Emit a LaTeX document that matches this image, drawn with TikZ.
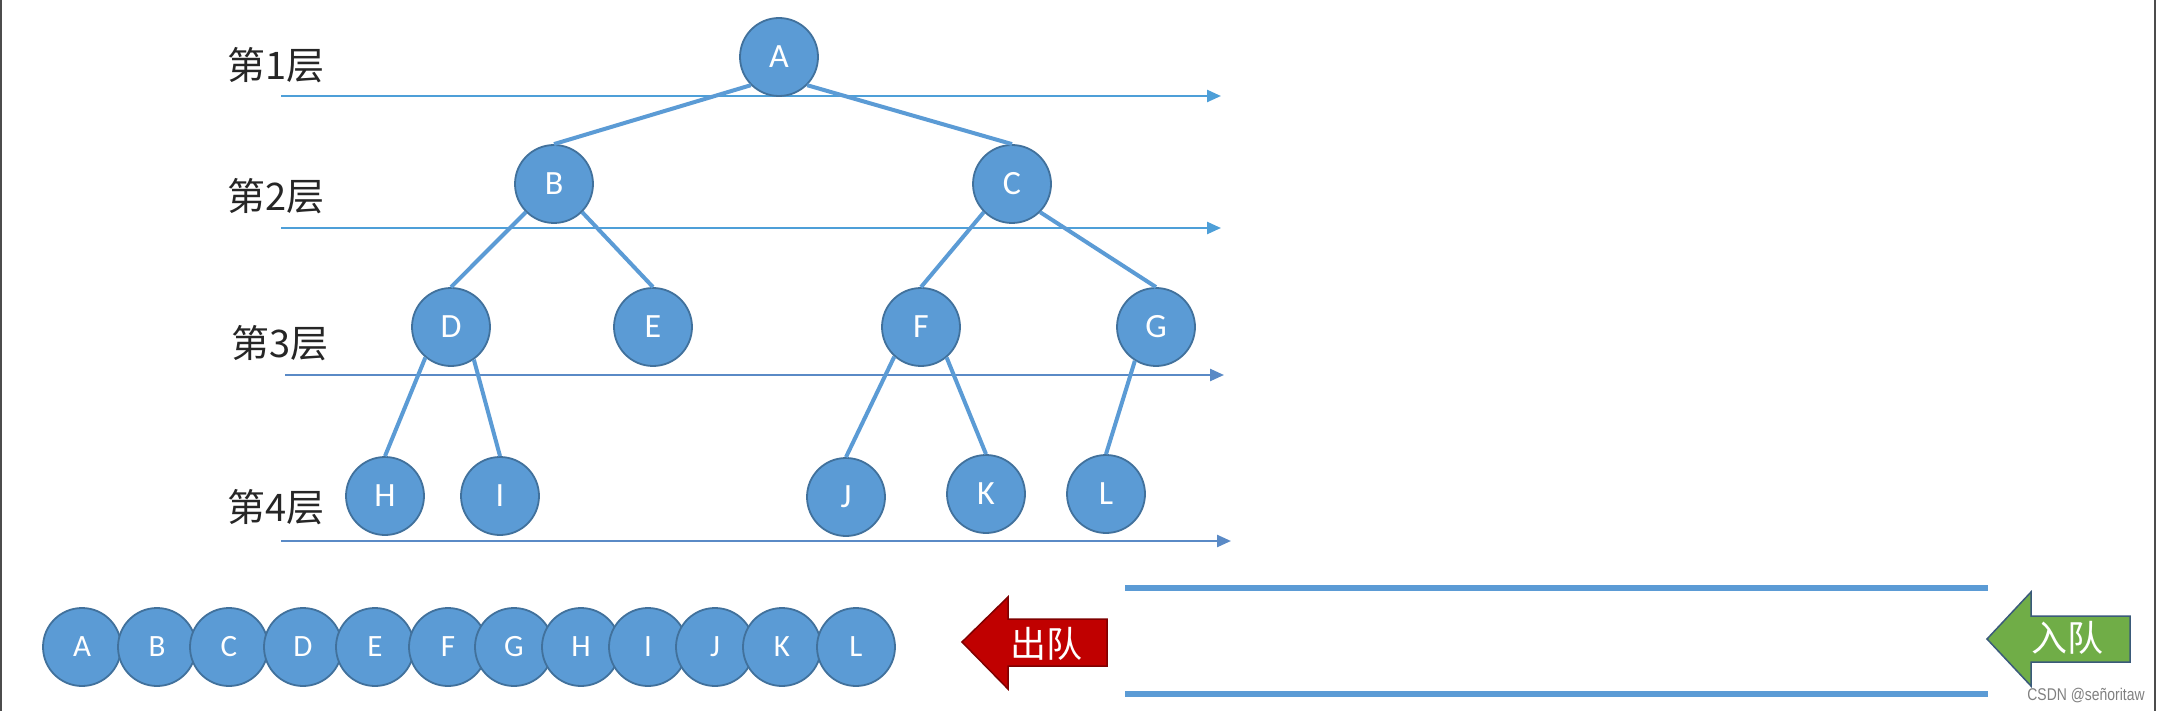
\documentclass[tikz,border=0pt]{standalone}
\usepackage{fontspec}
\setmainfont{Carlito}
\newfontfamily\cjk{Noto Sans CJK SC}
\newfontfamily\wmfont{Liberation Sans}
\usetikzlibrary{arrows.meta}
\definecolor{nodefill}{HTML}{5B9BD5}
\definecolor{nodeline}{HTML}{41719C}
\definecolor{lvlA}{HTML}{4E9FD8}
\definecolor{lvlB}{HTML}{5A8AC6}
\definecolor{outred}{HTML}{C00000}
\definecolor{outredline}{HTML}{7F0000}
\definecolor{ingreen}{HTML}{70AD47}
\definecolor{ingreenline}{HTML}{3A5A7A}
\begin{document}
\begin{tikzpicture}[x=1pt,y=-1pt,
  tn/.style={circle,fill=nodefill,draw=nodeline,line width=1.8pt,minimum size=78pt,inner sep=0pt,text=white,font=\fontsize{34}{40}\selectfont},
  qn/.style={tn,font=\fontsize{31}{36}\selectfont},
  edge/.style={draw=nodefill,line width=4pt},
  levelA/.style={draw=lvlA,line width=2.4pt,-{Triangle[length=14pt,width=12pt]}},
  levelB/.style={draw=lvlB,line width=2.4pt,-{Triangle[length=14pt,width=12pt]}},
  lbl/.style={font=\cjk\fontsize{38}{42}\selectfont,text=black!85,inner sep=0pt},
  tube/.style={draw=nodefill,line width=6pt},
  arrowtext/.style={font=\cjk\fontsize{36}{40}\selectfont,text=white,inner sep=0pt}]
\useasboundingbox (0,0) rectangle (2160,711);
\fill[white] (0,0) rectangle (2160,711);
\draw[black!70,line width=2pt] (1,0) -- (1,711);
\draw[black!70,line width=2pt] (2155,0) -- (2155,711);

% level labels
\node[lbl] (t1) at (276,65) {第1层};
\node[lbl] (t2) at (276,196) {第2层};
\node[lbl] (t3) at (280,343) {第3层};
\node[lbl] (t4) at (276,507) {第4层};

% level lines
\coordinate (l1s) at (281,96);  \coordinate (l1e) at (1221,96);
\coordinate (l2s) at (281,228); \coordinate (l2e) at (1221,228);
\coordinate (l3s) at (285,375); \coordinate (l3e) at (1224,375);
\coordinate (l4s) at (281,541); \coordinate (l4e) at (1231,541);
\draw[levelA] (l1s) -- (l1e);
\draw[levelA] (l2s) -- (l2e);
\draw[levelB] (l3s) -- (l3e);
\draw[levelB] (l4s) -- (l4e);

% tree nodes
\node[tn] (A) at (779,57) {A};
\node[tn] (B) at (554,184) {B};
\node[tn] (C) at (1012,184) {C};
\node[tn] (D) at (451,327) {D};
\node[tn] (E) at (653,327) {E};
\node[tn] (F) at (921,327) {F};
\node[tn] (G) at (1156,327) {G};
\node[tn] (H) at (385,496) {H};
\node[tn] (I) at (500,496) {I};
\node[tn] (J) at (846,497) {J};
\node[tn] (K) at (986,494) {K};
\node[tn] (L) at (1106,494) {L};

% tree edges
\draw[edge] (A.south west) -- (B.north);
\draw[edge] (A.south east) -- (C.north);
\draw[edge] (B.south west) -- (D.north);
\draw[edge] (B.south east) -- (E.north);
\draw[edge] (C.south west) -- (F.north);
\draw[edge] (C.south east) -- (G.north);
\draw[edge] (D.-130) -- (H.north);
\draw[edge] (D.-55) -- (I.north);
\draw[edge] (F.-132) -- (J.north);
\draw[edge] (F.-50) -- (K.north);
\draw[edge] (G.-122) -- (L.north);

% queue result
\node[qn] (qA) at (82,647) {A};
\node[qn] (qB) at (157,647) {B};
\node[qn] (qC) at (229,647) {C};
\node[qn] (qD) at (303,647) {D};
\node[qn] (qE) at (375,647) {E};
\node[qn] (qF) at (448,647) {F};
\node[qn] (qG) at (514,647) {G};
\node[qn] (qH) at (581,647) {H};
\node[qn] (qI) at (648,647) {I};
\node[qn] (qJ) at (715,647) {J};
\node[qn] (qK) at (782,647) {K};
\node[qn] (qL) at (856,647) {L};

% dequeue arrow
\filldraw[fill=outred,draw=outredline,line width=1.5pt,line join=miter]
  (962,642) -- (1008,597) -- (1008,619) -- (1107,619) -- (1107,666) -- (1008,666) -- (1008,689) -- cycle;
\node[arrowtext] (out) at (1046,644) {出队};

% queue tube
\coordinate (tt1) at (1125,588); \coordinate (tt2) at (1988,588);
\coordinate (tb1) at (1125,694); \coordinate (tb2) at (1988,694);
\draw[tube] (tt1) -- (tt2);
\draw[tube] (tb1) -- (tb2);

% enqueue arrow
\filldraw[fill=ingreen,draw=ingreenline,line width=1.5pt,line join=miter]
  (1987,639) -- (2031,592) -- (2031,616) -- (2130,616) -- (2130,662) -- (2031,662) -- (2031,686) -- cycle;
\node[arrowtext] (in) at (2067,638) {入队};

% watermark
\node[font=\wmfont\fontsize{17}{20}\selectfont,text=black!50,inner sep=0pt] (wm) at (2086,696) {\scalebox{0.82}[1]{CSDN @señoritaw}};
\end{tikzpicture}
\end{document}
